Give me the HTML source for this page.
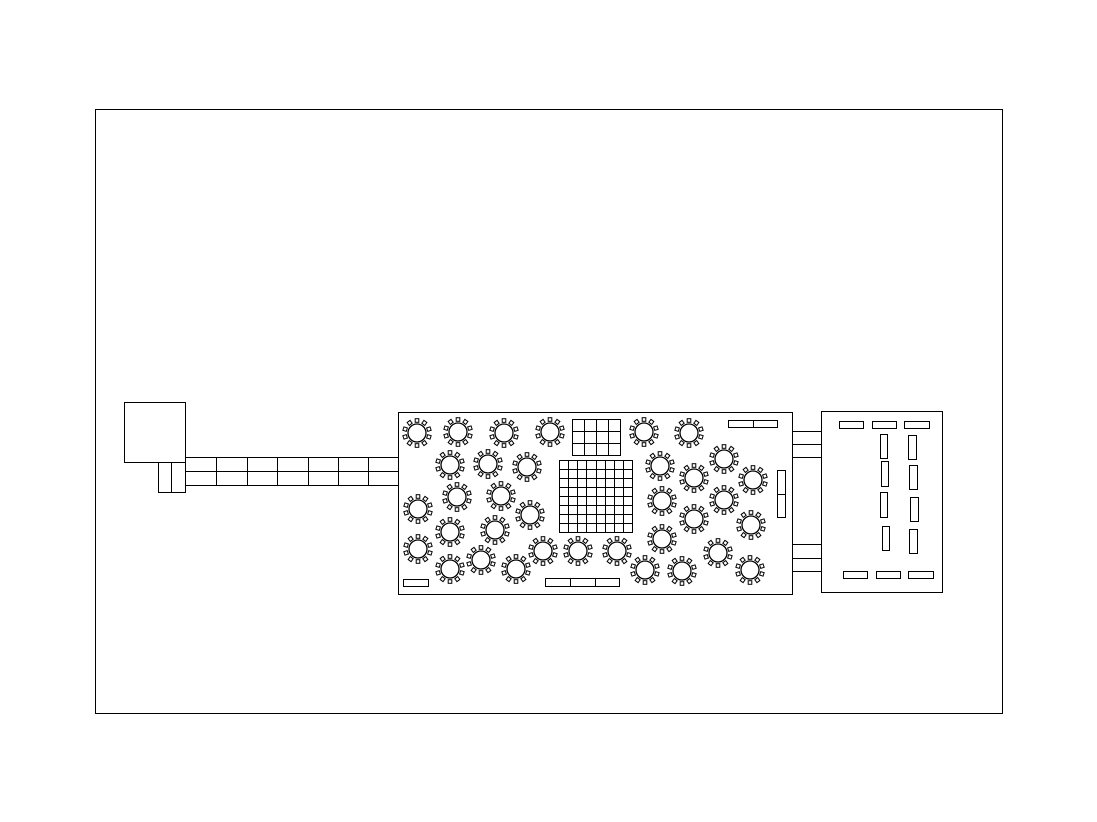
<!DOCTYPE html>
<html><head><meta charset="utf-8"><style>
html,body{margin:0;padding:0;background:#fff;width:1097px;height:822px;overflow:hidden}
svg{display:block}
</style></head><body>
<svg id="s" width="1097" height="822" viewBox="0 0 1097 822" xmlns="http://www.w3.org/2000/svg" fill="none" stroke="#000" stroke-width="1" shape-rendering="crispEdges">
<rect x="95.5" y="109.5" width="907" height="604"/>
<!-- left square -->
<rect x="124.5" y="402.5" width="61" height="60"/>
<rect x="158.5" y="462.5" width="27" height="30"/>
<line x1="171.5" y1="462" x2="171.5" y2="492"/>
<!-- walkway -->
<rect x="185.5" y="457.5" width="213" height="28"/>
<line x1="185" y1="471.5" x2="398" y2="471.5"/>
<g id="wv"></g>
<!-- main tent -->
<rect x="398.5" y="412.5" width="394" height="182"/>
<!-- connectors -->
<line x1="792" y1="431.5" x2="821" y2="431.5"/>
<line x1="792" y1="444.5" x2="821" y2="444.5"/>
<line x1="792" y1="457.5" x2="821" y2="457.5"/>
<line x1="792" y1="544.5" x2="821" y2="544.5"/>
<line x1="792" y1="558.5" x2="821" y2="558.5"/>
<line x1="792" y1="571.5" x2="821" y2="571.5"/>
<!-- right tent -->
<rect x="821.5" y="411.5" width="121" height="181"/>
<rect x="839.5" y="421.5" width="24" height="7"/>
<rect x="872.5" y="421.5" width="24" height="7"/>
<rect x="904.5" y="421.5" width="25" height="7"/>
<rect x="880.5" y="434.5" width="7" height="24"/>
<rect x="881.5" y="461.5" width="7" height="25"/>
<rect x="880.5" y="492.5" width="7" height="25"/>
<rect x="882.5" y="526.5" width="7" height="24"/>
<rect x="908.5" y="435.5" width="8" height="24"/>
<rect x="909.5" y="465.5" width="8" height="24"/>
<rect x="910.5" y="497.5" width="8" height="24"/>
<rect x="909.5" y="529.5" width="8" height="24"/>
<rect x="843.5" y="571.5" width="24" height="7"/>
<rect x="876.5" y="571.5" width="24" height="7"/>
<rect x="908.5" y="571.5" width="25" height="7"/>
<!-- bars -->
<rect x="728.5" y="420.5" width="49" height="7"/>
<line x1="753.5" y1="420" x2="753.5" y2="427"/>
<rect x="777.5" y="470.5" width="8" height="47"/>
<line x1="777" y1="494.5" x2="785" y2="494.5"/>
<rect x="403.5" y="579.5" width="25" height="7"/>
<rect x="545.5" y="578.5" width="74" height="8"/>
<line x1="570.5" y1="578" x2="570.5" y2="586"/>
<line x1="595.5" y1="578" x2="595.5" y2="586"/>
<g id="grids"></g>
<g id="tables" shape-rendering="auto"></g>
</svg>
<script>
var NS="http://www.w3.org/2000/svg";
function el(p,t,a){var e=document.createElementNS(NS,t);for(var k in a)e.setAttribute(k,a[k]);p.appendChild(e);return e;}
var wv=document.getElementById('wv');
[216,247,277,308,338,368].forEach(function(x){el(wv,'line',{x1:x+.5,y1:457,x2:x+.5,y2:485});});
var g=document.getElementById('grids');
function grid(x0,y0,x1,y1,c,r){el(g,'rect',{x:x0+.5,y:y0+.5,width:x1-x0,height:y1-y0});
for(var i=1;i<c;i++){var x=Math.round(x0+(x1-x0)*i/c)+.5;el(g,'line',{x1:x,y1:y0,x2:x,y2:y1});}
for(var j=1;j<r;j++){var y=Math.round(y0+(y1-y0)*j/r)+.5;el(g,'line',{x1:x0,y1:y,x2:x1,y2:y});}}
grid(572,419,620,455,4,3);
grid(559,460,632,532,8,8);
var T=[[417,433],[458,432],[504,433],[550,432],[644,432],[689,433],
[450,465],[488,464],[527,467],[660,466],[724,459],[694,478],[753,480],
[457,497],[501,496],[530,515],[418,509],[662,501],[724,500],[694,519],[751,525],
[450,532],[495,530],[662,539],[418,549],[481,560],[450,569],[516,569],[543,551],[578,551],[617,551],[645,570],[682,571],[718,553],[750,570]];
var tg=document.getElementById('tables');
T.forEach(function(p){
 el(tg,'circle',{cx:p[0],cy:p[1],r:9,'stroke-width':1.3});
 for(var i=0;i<10;i++){var a=-Math.PI/2+i*2*Math.PI/10;
  var x=p[0]+12.5*Math.cos(a),y=p[1]+12.5*Math.sin(a);
  el(tg,'rect',{x:x-1.8,y:y-1.8,width:3.6,height:3.6,transform:'rotate('+(a*180/Math.PI+90)+' '+x+' '+y+')','stroke-width':1});}
});
</script>
</body></html>
